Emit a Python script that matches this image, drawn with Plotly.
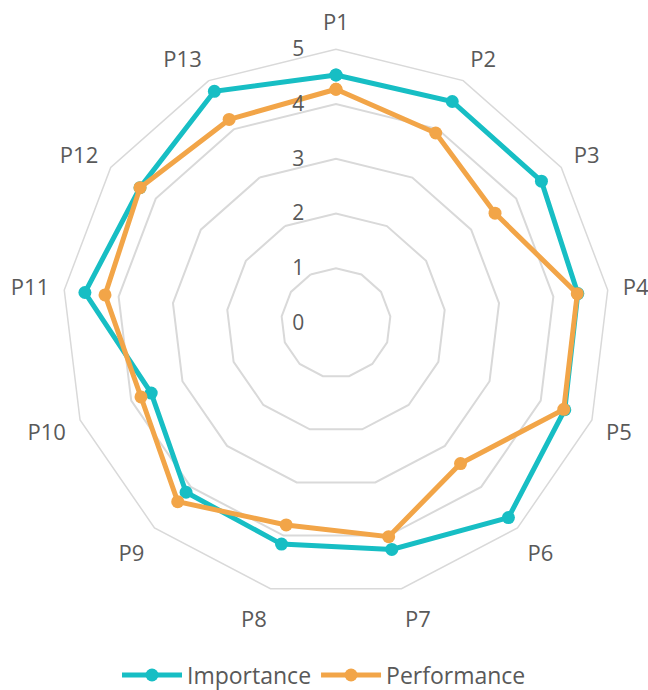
import plotly.graph_objects as go

categories = ["P1", "P2", "P3", "P4", "P5", "P6", "P7", "P8", "P9", "P10", "P11", "P12", "P13"]
importance = [4.53, 4.57, 4.56, 4.45, 4.47, 4.75, 4.26, 4.16, 4.13, 3.61, 4.62, 4.35, 4.78]
performance = [4.27, 3.92, 3.53, 4.44, 4.45, 3.43, 4.02, 3.80, 4.36, 3.81, 4.25, 4.35, 4.20]
radial_ticks = [0, 1, 2, 3, 4, 5]

TEAL = "#17BEC4"
ORANGE = "#F2A548"
GRID = "#D9D9D9"
TEXT = "#595959"
FONT = "Open Sans, DejaVu Sans, sans-serif"


def closed(values):
    return values + values[:1]


fig = go.Figure()
for name, vals, color in [("Importance", importance, TEAL), ("Performance", performance, ORANGE)]:
    fig.add_trace(go.Scatterpolar(
        r=closed(vals),
        theta=closed(categories),
        name=name,
        mode="lines+markers",
        line=dict(color=color, width=5),
        marker=dict(color=color, size=13),
    ))

fig.update_layout(
    width=648,
    height=690,
    margin=dict(l=0, r=0, t=0, b=0, autoexpand=False),
    paper_bgcolor="white",
    plot_bgcolor="white",
    font=dict(family=FONT, color=TEXT, size=20),
    polar=dict(
        domain=dict(x=[0.0961, 0.9409], y=[0.1352, 0.9286]),
        gridshape="linear",
        bgcolor="white",
        angularaxis=dict(
            direction="clockwise",
            rotation=90,
            showgrid=False,
            showline=True,
            linecolor=GRID,
            linewidth=1.5,
            ticks="outside",
            ticklen=10,
            tickcolor="rgba(0,0,0,0)",
            tickfont=dict(size=22, color=TEXT, family=FONT),
        ),
        radialaxis=dict(
            range=[0, 5],
            tickvals=radial_ticks,
            angle=90,
            side="counterclockwise",
            showline=False,
            showgrid=True,
            gridcolor=GRID,
            gridwidth=1.5,
            ticks="outside",
            ticklen=24,
            tickcolor="rgba(0,0,0,0)",
            tickangle=90,
            tickfont=dict(size=21, color=TEXT, family=FONT),
        ),
    ),
    legend=dict(
        orientation="h",
        x=0.5,
        xanchor="center",
        y=0.0217,
        yanchor="middle",
        itemwidth=60,
        font=dict(size=23, color=TEXT, family=FONT),
        bgcolor="rgba(0,0,0,0)",
    ),
)

fig.write_html("out.html")
